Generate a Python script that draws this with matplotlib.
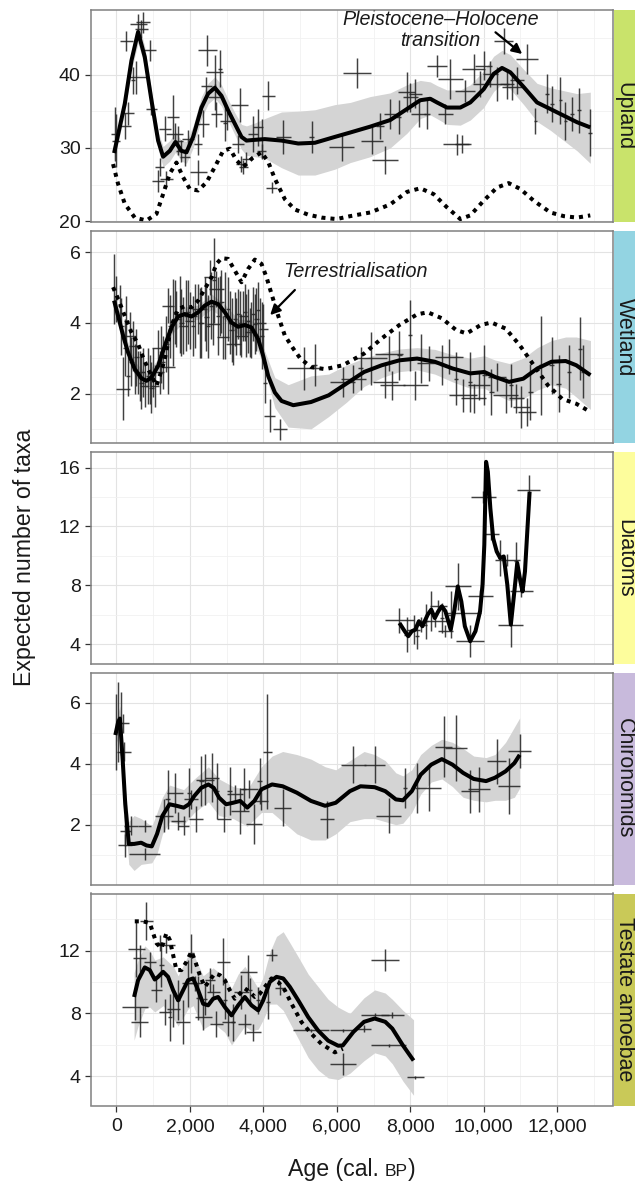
import numpy as np
import matplotlib
matplotlib.use("Agg")
import matplotlib.pyplot as plt
from matplotlib.patches import Rectangle
from matplotlib.ticker import FixedLocator

plt.rcParams['font.family'] = ['Liberation Sans', 'DejaVu Sans']

# ---------------------------------------------------------------- data
panel_names = ["Upland", "Wetland", "Diatoms", "Chironomids", "Testate amoebae"]
strip_colors = ["#c9e36b", "#93d4e2", "#fdfd9c", "#c8badc", "#c9c958"]
y_ticks = [[20, 30, 40], [2, 4, 6], [4, 8, 12, 16], [2, 4, 6], [4, 8, 12]]
y_minor = [[25, 35, 45], [1, 3, 5], [6, 10, 14], [1, 3, 5], [6, 10, 14]]
y_limits = [(19.9, 48.8), (0.6, 6.6), (2.64, 17.07), (0.04, 6.99), (2.15, 15.63)]
x_ticks = [0, 2000, 4000, 6000, 8000, 10000, 12000]
x_minor = [1000, 3000, 5000, 7000, 9000, 11000, 13000]
x_limits = (-700, 13510)

# crosses: (age, taxa, age error, taxa error)
upland_points = [
    (-45, 31.9, 110, 3.7), (0, 31.0, 110, 3.6), (227, 33.0, 160, 1.8), (318, 34.7, 160, 1.6),
    (272, 44.6, 180, 1.4), (545, 39.6, 250, 2.3), (454, 39.2, 60, 1.8), (590, 46.9, 230, 1.4),
    (727, 47.1, 200, 1.4), (680, 46.2, 180, 1.2), (908, 43.3, 160, 1.4), (954, 35.3, 160, 0.8),
    (1135, 25.5, 160, 1.5), (1180, 27.4, 120, 1.2), (1362, 25.8, 180, 1.0), (1317, 32.6, 160, 1.7),
    (1544, 34.2, 160, 3.0), (1590, 31.9, 230, 1.5), (1680, 31.0, 120, 2.0), (1860, 28.7, 140, 1.2),
    (1770, 29.6, 140, 1.5), (2225, 26.7, 230, 1.7), (1952, 31.2, 160, 1.3), (2225, 30.5, 115, 1.4),
    (2361, 33.3, 160, 1.8), (2479, 43.3, 250, 2.1), (2452, 38.5, 160, 1.1), (2679, 40.3, 230, 2.3),
    (2815, 40.8, 60, 2.5), (2679, 36.9, 180, 1.8), (2724, 34.6, 160, 1.7), (2951, 33.4, 60, 2.5),
    (3000, 33.7, 180, 1.2), (3360, 35.8, 230, 2.3), (3315, 30.5, 160, 1.2), (3405, 27.8, 160, 1.1),
    (3450, 27.4, 120, 1.0), (3540, 28.5, 120, 1.0), (3723, 31.9, 140, 2.5), (3859, 32.8, 140, 2.5),
    (3950, 31.2, 140, 2.7), (4131, 37.1, 180, 2.0), (4222, 24.6, 160, 0.8), (3950, 29.6, 120, 1.0),
    (4540, 31.5, 200, 2.3), (5312, 31.5, 80, 2.2), (6547, 40.2, 385, 2.0), (6138, 30.1, 340, 1.9),
    (6956, 31.0, 290, 1.8), (7180, 33.0, 100, 1.8), (7318, 28.3, 360, 1.9), (7454, 34.6, 180, 2.0),
    (7680, 34.2, 80, 2.3), (7908, 37.6, 230, 2.7), (8000, 36.9, 200, 2.0), (8135, 37.4, 180, 2.0),
    (8226, 34.6, 200, 1.8), (8453, 34.6, 80, 2.0), (8726, 41.2, 270, 1.5), (8953, 34.6, 200, 1.4),
    (9089, 39.4, 340, 2.7), (9270, 30.5, 385, 1.4), (9407, 30.5, 200, 1.2), (9498, 37.8, 270, 1.5),
    (9724, 40.8, 320, 2.0), (9906, 38.7, 200, 1.8), (9997, 41.2, 230, 2.0), (10179, 40.1, 200, 1.8),
    (10361, 38.7, 320, 2.3), (10542, 44.6, 250, 1.8), (10633, 38.7, 200, 2.0), (10770, 38.3, 270, 1.8),
    (10906, 39.2, 200, 1.8), (11179, 42.1, 290, 2.0), (11405, 33.7, 50, 1.8), (11723, 37.4, 50, 2.7),
    (11860, 36.0, 50, 2.5), (12086, 36.5, 50, 3.2), (12222, 33.7, 50, 2.6), (12404, 34.6, 50, 2.3),
    (12586, 35.1, 50, 3.0), (12900, 32.1, 50, 3.2),
]
upland_fit_age = [-63, 227, 409, 590, 772, 954, 1135, 1271, 1453, 1607, 1770, 1907, 2088, 2315,
                  2497, 2679, 2860, 3042, 3223, 3405, 3541, 3768, 4040, 4495, 4949, 5403, 5947,
                  6365, 6910, 7454, 7908, 8271, 8544, 8726, 8998, 9361, 9634, 9997, 10270, 10497,
                  10724, 11087, 11450, 11814, 12177, 12540, 12900]
upland_fit = [29.3, 36.0, 41.9, 45.8, 42.4, 36.5, 31.0, 28.8, 29.6, 30.8, 29.6, 29.4, 31.5, 35.5,
              37.4, 38.2, 37.1, 35.1, 33.3, 31.5, 31.0, 31.1, 31.2, 31.0, 30.6, 30.7, 31.5,
              32.1, 32.9, 33.8, 35.3, 36.5, 36.7, 36.2, 35.5, 35.5, 36.2, 38.0, 40.1, 40.9,
              40.3, 38.3, 36.2, 35.3, 34.4, 33.5, 32.8]
upland_band_lo = [28.3, 34.8, 40.6, 44.3, 41.0, 35.2, 29.8, 27.4, 28.2, 29.4, 28.2, 27.9, 30.0, 34.0,
                  36.0, 36.8, 35.7, 33.7, 31.8, 29.8, 29.0, 28.8, 28.6, 27.3, 26.3, 26.3, 27.1,
                  28.0, 28.8, 30.0, 32.0, 34.0, 34.5, 34.0, 33.2, 33.1, 33.8, 35.5, 37.7, 38.7,
                  38.0, 35.9, 33.6, 32.4, 31.0, 29.6, 27.9]
upland_band_hi = [30.3, 37.2, 43.2, 47.3, 43.8, 37.8, 32.2, 30.2, 31.0, 32.2, 31.0, 30.9, 33.0, 37.0,
                  38.8, 39.7, 38.6, 36.6, 34.8, 33.2, 33.0, 33.4, 34.0, 34.9, 35.0, 35.2, 35.9,
                  36.2, 37.0, 37.5, 38.6, 39.2, 39.0, 38.5, 37.9, 37.9, 38.6, 40.5, 42.5, 43.3,
                  42.7, 40.7, 38.8, 38.2, 37.8, 37.4, 37.6]
upland_dot_age = [-91, 45, 227, 499, 817, 1090, 1271, 1453, 1634, 1816, 1998, 2225, 2452, 2679,
                  2906, 3088, 3270, 3450, 3700, 3950, 4131, 4313, 4586, 4858, 5221, 5584, 5993,
                  6365, 6910, 7454, 7908, 8271, 8635, 8998, 9361, 9634, 9997, 10361, 10679,
                  10997, 11360, 11814, 12177, 12540, 12900]
upland_dot = [27.8, 25.1, 22.4, 20.5, 20.1, 21.0, 23.7, 26.5, 28.0, 26.0, 24.4, 24.2, 25.3, 27.4,
              29.6, 29.9, 28.3, 27.4, 28.6, 29.4, 28.1, 25.8, 23.0, 21.6, 20.9, 20.5, 20.3,
              20.7, 21.2, 22.3, 24.0, 24.5, 23.7, 21.9, 20.3, 20.8, 22.8, 24.6, 25.2,
              24.4, 22.8, 21.2, 20.7, 20.5, 20.8]

wetland_points = [
    (-64, 4.96, 40, 1.0), (0, 4.68, 40, 0.66), (91, 4.49, 60, 0.57), (182, 2.14, 200, 0.9),
    (272, 4.06, 60, 0.7), (363, 3.64, 160, 0.66), (454, 3.35, 120, 0.7), (318, 2.50, 60, 0.57),
    (545, 3.02, 60, 0.8), (590, 2.60, 120, 0.6), (681, 2.31, 60, 0.76), (772, 2.22, 120, 0.6),
    (863, 2.50, 60, 0.8), (953, 2.17, 60, 0.73), (1044, 2.22, 120, 0.6), (1135, 3.30, 160, 0.5),
    (1180, 2.60, 120, 0.6), (1271, 2.88, 60, 0.76), (1407, 2.74, 200, 0.76), (1407, 4.49, 160, 0.5),
    (1544, 4.01, 60, 1.23), (1634, 4.11, 120, 0.8), (1725, 4.25, 60, 1.09), (1816, 3.92, 120, 0.8),
    (1907, 4.20, 60, 1.0), (1998, 4.06, 120, 0.8), (2088, 3.92, 60, 0.85), (2225, 4.39, 160, 0.7),
    (2316, 4.01, 60, 1.0), (2452, 4.16, 60, 0.95), (2543, 5.29, 160, 0.5), (2588, 4.49, 60, 0.95),
    (2660, 5.20, 50, 1.2), (2724, 4.96, 200, 0.5), (2633, 3.97, 180, 0.6), (2815, 4.49, 60, 0.85),
    (2906, 3.59, 160, 0.6), (2951, 4.20, 60, 1.23), (3087, 4.01, 60, 0.9), (3178, 3.40, 200, 0.6),
    (3223, 4.11, 60, 0.76), (3314, 4.25, 60, 0.7), (3405, 3.64, 180, 0.6), (3450, 4.20, 120, 0.7),
    (3541, 3.92, 60, 0.9), (3632, 3.73, 120, 0.7), (3723, 4.25, 60, 0.76), (3768, 3.97, 60, 0.85),
    (3859, 4.35, 60, 0.8), (3904, 4.01, 160, 0.7), (3950, 3.64, 60, 0.95), (3995, 3.82, 120, 0.7),
    (4040, 2.31, 60, 0.57), (4177, 1.37, 150, 0.47), (4449, 0.99, 200, 0.3),
    (136, 3.90, 60, 0.8), (227, 3.30, 60, 0.8), (409, 2.90, 60, 0.7), (500, 2.70, 60, 0.7),
    (636, 2.50, 60, 0.7), (727, 2.60, 60, 0.7), (908, 2.40, 60, 0.7), (999, 2.60, 60, 0.7),
    (1226, 3.10, 60, 0.8), (1362, 3.40, 60, 0.8), (1453, 3.90, 60, 0.9), (1589, 4.30, 60, 0.9),
    (1770, 4.00, 60, 0.95), (1952, 4.30, 60, 0.9), (2134, 4.20, 60, 0.9), (2270, 4.00, 60, 1.0),
    (2406, 4.40, 60, 0.9), (2497, 3.90, 60, 0.9), (2769, 4.20, 60, 1.1), (2860, 4.60, 60, 0.9),
    (3042, 4.40, 60, 0.9), (3133, 3.80, 60, 0.9), (3268, 3.90, 60, 0.8), (3360, 4.00, 60, 0.9),
    (3496, 4.30, 60, 0.8), (3587, 4.05, 60, 0.9), (3677, 3.80, 60, 0.8), (3813, 4.10, 60, 0.9),
    (5104, 2.71, 450, 0.6), (5393, 2.80, 60, 0.6), (6163, 2.33, 340, 0.43), (6452, 2.42, 340, 0.4),
    (6645, 2.71, 60, 0.6), (6933, 3.0, 430, 0.75), (7318, 2.33, 340, 0.47), (7414, 3.13, 385, 0.5),
    (7511, 2.23, 340, 0.4), (7704, 3.08, 60, 0.7), (7993, 3.65, 60, 1.0), (8137, 2.23, 340, 0.4),
    (8281, 2.99, 60, 0.7), (8522, 2.85, 340, 0.5), (8859, 2.80, 60, 0.57), (9052, 3.04, 385, 0.5),
    (9244, 2.42, 60, 0.75), (9437, 1.95, 385, 0.47), (9630, 2.33, 60, 0.85), (9726, 1.86, 340, 0.4),
    (9870, 2.23, 290, 0.4), (10015, 2.52, 60, 0.85), (10207, 2.04, 60, 0.66), (10352, 2.47, 240, 0.4),
    (10593, 1.95, 340, 0.5), (10737, 2.23, 60, 0.6), (10882, 1.86, 200, 0.4), (11026, 1.62, 240, 0.6),
    (11171, 1.48, 240, 0.4), (11267, 2.04, 60, 0.8), (11556, 2.80, 60, 1.4), (11845, 2.80, 60, 0.8),
    (12037, 2.28, 60, 0.8), (12326, 2.61, 60, 0.75), (12615, 3.27, 60, 0.9), (12711, 2.61, 60, 0.75),
]
wetland_fit_age = [-64, 45, 182, 318, 500, 681, 817, 953, 1135, 1317, 1498, 1680, 1861, 2043, 2225,
                   2406, 2588, 2769, 2951, 3133, 3314, 3496, 3677, 3859, 3995, 4131, 4313, 4495,
                   4815, 5297, 5778, 6259, 6741, 7222, 7704, 8185, 8667, 9148, 9630, 10015, 10304,
                   10689, 11075, 11460, 11845, 12230, 12519, 12904]
wetland_fit = [4.63, 4.20, 3.64, 3.16, 2.69, 2.43, 2.36, 2.45, 2.78, 3.35, 3.87, 4.18, 4.25, 4.18, 4.30,
               4.49, 4.60, 4.53, 4.30, 4.01, 3.89, 3.94, 3.87, 3.54, 3.07, 2.50, 2.03, 1.79,
               1.67, 1.76, 1.95, 2.28, 2.61, 2.80, 2.94, 2.99, 2.90, 2.71, 2.57, 2.61, 2.47,
               2.33, 2.42, 2.71, 2.90, 2.92, 2.80, 2.52]
wetland_band_age = [-64, 182, 500, 817, 1135, 1498, 1861, 2225, 2588, 2951, 3314, 3677, 3995, 4313,
                    4676, 5297, 5778, 6259, 6741, 7222, 7704, 8185, 8667, 9148, 9630, 10015, 10304,
                    10689, 11075, 11460, 11845, 12230, 12519, 12904]
wetland_band_lo = [4.35, 3.45, 2.50, 2.15, 2.58, 3.67, 4.05, 4.10, 4.38, 4.08, 3.67, 3.65, 2.82, 1.60,
                   1.05, 1.00, 1.35, 1.75, 2.20, 2.45, 2.62, 2.67, 2.55, 2.33, 2.15, 2.15, 1.98,
                   1.80, 1.85, 2.10, 2.25, 2.15, 1.90, 1.55]
wetland_band_hi = [4.90, 3.85, 2.90, 2.57, 2.98, 4.07, 4.45, 4.50, 4.82, 4.52, 4.10, 4.10, 3.32, 2.45,
                   2.25, 2.50, 2.55, 2.80, 3.00, 3.15, 3.26, 3.30, 3.25, 3.10, 3.00, 3.07, 2.95,
                   2.85, 3.00, 3.30, 3.50, 3.60, 3.60, 3.50]
wetland_dot_age = [-91, 45, 227, 409, 590, 727, 863, 999, 1090, 1180, 1317, 1498, 1680, 1861, 2043,
                   2225, 2406, 2588, 2724, 2860, 3042, 3223, 3405, 3587, 3768, 3950, 4086, 4222,
                   4404, 4585, 4815, 5008, 5297, 5682, 6163, 6741, 7222, 7704, 8185, 8474, 8859,
                   9244, 9533, 9918, 10207, 10593, 10978, 11363, 11748, 12134, 12519, 12904]
wetland_dot = [5.01, 4.68, 4.20, 3.73, 3.40, 3.02, 2.69, 2.41, 2.22, 2.50, 2.97, 3.92, 4.39, 4.47, 4.44,
               4.63, 4.96, 5.29, 5.67, 5.83, 5.81, 5.48, 5.15, 5.53, 5.79, 5.67, 5.29, 4.82,
               4.20, 3.64, 3.27, 2.99, 2.75, 2.69, 2.80, 3.13, 3.56, 3.94, 4.24, 4.30, 4.13,
               3.80, 3.70, 3.94, 4.01, 3.84, 3.37, 2.80, 2.23, 1.85, 1.71, 1.48]

diatom_points = [
    (7704, 5.61, 385, 0.85), (7897, 4.64, 60, 1.2), (8089, 4.98, 180, 1.0), (8185, 4.53, 60, 0.9),
    (8281, 5.32, 180, 0.5), (8426, 5.55, 60, 1.2), (8570, 6.23, 60, 1.35), (8667, 5.55, 385, 0.4),
    (8763, 6.57, 240, 0.4), (8859, 5.77, 60, 1.0), (8956, 4.87, 200, 0.4), (9100, 6.0, 60, 1.6),
    (9293, 7.92, 360, 1.6), (9437, 6.11, 480, 0.3), (9630, 4.19, 385, 1.1), (9899, 7.29, 340, 0.4),
    (9987, 13.99, 340, 0.4), (10207, 11.48, 220, 0.4), (10448, 9.85, 60, 1.25), (10641, 9.73, 340, 0.4),
    (10737, 5.32, 340, 1.5), (10882, 9.62, 60, 1.35), (11026, 7.58, 310, 0.4), (11219, 14.48, 310, 1.0),
]
diatom_fit_age = [7704, 7848, 7945, 8041, 8137, 8234, 8330, 8474, 8570, 8667, 8763, 8859, 8956, 9100,
                  9196, 9293, 9389, 9485, 9630, 9774, 9899, 9967, 10015, 10063, 10111, 10179, 10256,
                  10352, 10448, 10544, 10641, 10737, 10833, 10911, 10998, 11055, 11122, 11190, 11248]
diatom_fit = [5.43, 4.87, 4.53, 4.87, 4.98, 5.55, 5.21, 6.00, 6.34, 5.77, 6.23, 6.57, 6.23, 4.98,
              6.23, 7.92, 6.90, 5.21, 4.19, 4.87, 6.23, 8.04, 10.75, 16.4, 15.73, 13.24, 11.20,
              10.30, 9.85, 9.96, 8.04, 5.32, 7.58, 9.51, 8.26, 7.58, 8.94, 11.88, 14.37]

chiro_points = [
    (0, 5.05, 40, 1.24), (48, 5.37, 40, 1.3), (116, 5.32, 40, 1.03), (173, 5.32, 170, 0.3),
    (212, 4.40, 190, 0.3), (241, 1.81, 145, 0.5), (241, 1.32, 190, 0.38), (385, 1.97, 190, 0.3),
    (770, 1.97, 170, 0.2), (770, 1.03, 430, 0.2), (1300, 2.29, 240, 0.54), (1396, 2.83, 60, 0.97),
    (1589, 3.05, 215, 0.65), (1685, 2.13, 190, 0.3), (1830, 1.97, 145, 0.3), (1974, 3.05, 60, 0.81),
    (2022, 2.83, 190, 0.3), (2167, 2.18, 190, 0.43), (2311, 3.43, 60, 0.81), (2408, 3.48, 240, 0.84),
    (2600, 3.54, 190, 0.81), (2745, 3.10, 60, 0.92), (2937, 2.18, 190, 0.43), (3081, 3.10, 60, 0.78),
    (3226, 3.0, 215, 0.3), (3370, 2.45, 240, 0.76), (3467, 3.16, 60, 0.7), (3611, 3.16, 240, 0.3),
    (3756, 2.02, 215, 0.65), (3900, 3.43, 60, 0.76), (3948, 2.78, 190, 0.3), (4111, 4.40, 120, 1.9),
    (4526, 2.56, 240, 0.6), (5730, 2.18, 190, 0.6), (6452, 3.97, 340, 0.6), (7030, 3.97, 290, 0.6),
    (7415, 2.29, 340, 0.57), (7848, 3.21, 60, 0.65), (8185, 3.21, 60, 0.81), (8522, 3.21, 310, 0.76),
    (8908, 4.56, 240, 1.0), (9245, 4.51, 290, 1.08), (9630, 3.10, 240, 0.7), (9870, 3.16, 290, 0.73),
    (10352, 4.08, 265, 0.73), (10689, 3.26, 310, 0.92), (10978, 4.42, 310, 0.57),
]
chiro_fit_age = [-29, 48, 96, 173, 241, 337, 481, 674, 819, 963, 1107, 1252, 1445, 1637, 1830, 1974,
                 2119, 2311, 2504, 2648, 2793, 2985, 3178, 3370, 3563, 3756, 3948, 4237, 4526, 4911,
                 5297, 5682, 5971, 6356, 6645, 7030, 7319, 7608, 7800, 8041, 8282, 8570, 8859,
                 9148, 9437, 9726, 10063, 10304, 10593, 10834, 10978]
chiro_fit = [4.94, 5.37, 5.48, 4.08, 2.67, 1.37, 1.37, 1.41, 1.32, 1.29, 1.70, 2.29, 2.67, 2.62, 2.56, 2.67,
             2.94, 3.21, 3.32, 3.21, 2.89, 2.67, 2.72, 2.78, 2.56, 2.78, 3.16, 3.32, 3.26, 3.05,
             2.78, 2.62, 2.72, 3.10, 3.26, 3.23, 3.10, 2.83, 2.80, 3.10, 3.64, 3.97, 4.15,
             3.97, 3.70, 3.50, 3.43, 3.54, 3.75, 4.02, 4.29]
chiro_band_age = [-29, 96, 173, 241, 337, 481, 674, 963, 1107, 1252, 1445, 1830, 2119, 2504, 2793,
                  3178, 3563, 3948, 4237, 4526, 4911, 5297, 5682, 5971, 6356, 6741, 7030, 7319, 7608,
                  7800, 8041, 8282, 8570, 8859, 9148, 9437, 9726, 10063, 10304, 10593, 10834, 10978]
chiro_band_lo = [4.6, 5.0, 3.6, 2.1, 0.7, 0.5, 0.7, 0.75, 1.05, 1.7, 2.1, 2.0, 2.4, 2.75, 2.3,
                 2.2, 1.95, 2.4, 2.4, 2.1, 1.7, 1.5, 1.5, 1.7, 2.1, 2.2, 2.2, 2.1, 2.0,
                 2.05, 2.4, 3.0, 3.4, 3.5, 3.25, 2.9, 2.8, 2.75, 2.8, 2.8, 2.9, 3.2]
chiro_band_hi = [5.3, 5.9, 4.5, 3.2, 2.1, 2.3, 2.2, 1.95, 2.4, 2.9, 3.3, 3.15, 3.5, 3.9, 3.5,
                 3.25, 3.15, 3.9, 4.25, 4.4, 4.3, 4.15, 3.9, 3.8, 4.1, 4.4, 4.3, 4.1, 3.7,
                 3.6, 3.8, 4.3, 4.6, 4.8, 4.7, 4.5, 4.25, 4.2, 4.3, 4.7, 5.2, 5.5]

testate_points = [
    (545, 12.09, 230, 1.8), (817, 13.86, 180, 1.2), (636, 11.51, 180, 0.85), (499, 8.41, 360, 0.85),
    (636, 7.45, 230, 0.96), (908, 11.29, 160, 0.6), (1090, 9.48, 160, 0.75), (1180, 12.47, 140, 0.5),
    (1226, 11.08, 60, 1.4), (1362, 12.36, 230, 0.5), (1317, 8.09, 160, 0.85), (1453, 7.77, 60, 1.5),
    (1544, 8.30, 180, 1.17), (1680, 8.84, 60, 1.28), (1816, 7.45, 200, 1.4), (1952, 9.91, 160, 1.5),
    (2043, 11.83, 60, 1.23), (2134, 9.91, 180, 0.5), (2225, 9.0, 60, 1.4), (2361, 7.77, 230, 0.85),
    (2406, 8.9, 60, 1.0), (2543, 10.12, 140, 0.75), (2633, 9.37, 180, 0.5), (2724, 7.34, 180, 0.85),
    (2906, 11.29, 180, 1.5), (2951, 8.84, 60, 1.17), (3042, 7.45, 180, 0.85), (3178, 7.45, 60, 1.17),
    (3405, 9.37, 200, 1.07), (3496, 7.34, 180, 0.64), (3587, 10.65, 230, 1.07), (3632, 9.48, 60, 0.75),
    (3723, 6.81, 200, 0.53), (3859, 8.84, 60, 0.85), (4131, 8.73, 60, 1.07), (4222, 11.72, 160, 0.4),
    (4449, 9.59, 140, 0.4), (5297, 6.94, 500, 0.1), (6163, 6.94, 360, 0.1), (6163, 4.80, 360, 0.7),
    (6741, 7.04, 200, 0.2), (7319, 11.42, 385, 0.7), (7030, 7.90, 385, 0.1), (7511, 7.90, 310, 0.2),
    (7415, 5.97, 480, 0.1), (8137, 3.94, 240, 0.1),
]
testate_fit_age = [481, 590, 772, 908, 1044, 1135, 1271, 1407, 1544, 1680, 1816, 1952, 2088, 2225,
                   2361, 2497, 2633, 2769, 2951, 3133, 3314, 3496, 3677, 3859, 3995, 4177, 4358,
                   4540, 4722, 4949, 5221, 5493, 5766, 6038, 6163, 6452, 6741, 7030, 7319, 7511,
                   7800, 8089]
testate_fit = [9.05, 10.12, 10.93, 10.76, 10.16, 10.33, 10.65, 10.33, 9.48, 8.84, 9.48, 10.12, 10.23, 9.48,
               8.62, 8.52, 8.94, 9.05, 8.41, 7.88, 8.52, 9.05, 8.52, 8.20, 8.84, 10.01, 10.33,
               10.23, 9.69, 8.84, 7.77, 6.91, 6.27, 5.95, 5.97, 6.83, 7.47, 7.68, 7.47, 7.04,
               5.97, 5.01]
testate_band_age = [481, 590, 772, 908, 1044, 1271, 1544, 1680, 1952, 2088, 2361, 2633, 2951, 3133,
                    3314, 3496, 3677, 3859, 3995, 4177, 4358, 4540, 4722, 4949, 5221, 5493, 5766,
                    6038, 6356, 6741, 7030, 7319, 7511, 7800, 8089]
testate_band_lo = [6.3, 7.2, 8.3, 8.4, 8.1, 8.5, 7.7, 7.2, 8.3, 8.5, 7.0, 7.4, 6.8, 6.0,
                   6.6, 7.2, 6.9, 7.0, 7.6, 8.6, 8.6, 8.2, 7.4, 6.4, 5.2, 4.4, 3.9,
                   3.8, 4.2, 5.0, 5.5, 5.3, 4.8, 3.7, 2.8]
testate_band_hi = [10.6, 11.4, 12.3, 12.0, 11.4, 11.6, 11.0, 10.4, 11.7, 11.8, 10.4, 10.9, 10.3, 9.6,
                   10.5, 11.0, 10.3, 9.6, 10.3, 11.9, 12.9, 13.2, 12.5, 11.6, 10.5, 9.7, 8.9,
                   8.4, 8.0, 9.0, 9.5, 9.3, 8.9, 8.2, 7.6]
testate_dot_age = [500, 726, 908, 999, 1090, 1226, 1362, 1453, 1544, 1634, 1770, 1907, 2043, 2134,
                   2270, 2406, 2543, 2679, 2815, 2951, 3087, 3223, 3360, 3496, 3632, 3768, 3904,
                   4040, 4222, 4404, 4585, 4767, 5039, 5312, 5584, 5947, 6163]
testate_dot = [13.86, 13.86, 13.75, 13.11, 12.47, 12.15, 13.11, 12.68, 11.72, 10.76, 10.76, 11.29, 11.94,
               11.40, 10.44, 9.69, 10.12, 10.55, 10.44, 10.12, 9.48, 8.94, 9.26, 9.59, 9.37, 9.05,
               9.26, 9.69, 10.23, 10.01, 9.48, 8.62, 7.45, 6.70, 6.06, 5.53, 5.76]

# ---------------------------------------------------------------- panels table
panels = [
    dict(points=upland_points, fit=(upland_fit_age, upland_fit),
         band=(upland_fit_age, upland_band_lo, upland_band_hi), dot=(upland_dot_age, upland_dot)),
    dict(points=wetland_points, fit=(wetland_fit_age, wetland_fit),
         band=(wetland_band_age, wetland_band_lo, wetland_band_hi), dot=(wetland_dot_age, wetland_dot)),
    dict(points=diatom_points, fit=(diatom_fit_age, diatom_fit), band=None, dot=None),
    dict(points=chiro_points, fit=(chiro_fit_age, chiro_fit),
         band=(chiro_band_age, chiro_band_lo, chiro_band_hi), dot=None),
    dict(points=testate_points, fit=(testate_fit_age, testate_fit),
         band=(testate_band_age, testate_band_lo, testate_band_hi), dot=(testate_dot_age, testate_dot)),
]

# ---------------------------------------------------------------- figure
W, H = 635, 1182
fig = plt.figure(figsize=(W / 100, H / 100), dpi=100)
L, R = 90.7, 612.7
tops = [10, 231, 452, 672.5, 893.5]
PH = 212
TXT = '#1a1a1a'
axes = []
for i, p in enumerate(panels):
    ax = fig.add_axes([L / W, 1 - (tops[i] + PH) / H, (R - L) / W, PH / H])
    axes.append(ax)
    ax.set_xlim(*x_limits)
    ax.set_ylim(*y_limits[i])
    ax.set_xticks(x_ticks)
    ax.xaxis.set_minor_locator(FixedLocator(x_minor))
    ax.set_yticks(y_ticks[i])
    ax.yaxis.set_minor_locator(FixedLocator(y_minor[i]))
    ax.grid(which='major', color='#e3e3e3', lw=0.8, zorder=0)
    ax.grid(which='minor', color='#f1f1f1', lw=0.6, zorder=0)
    ax.set_axisbelow(True)
    ax.tick_params(which='minor', length=0)
    ax.tick_params(axis='y', which='major', length=4.3, width=0.9, color='#333333',
                   labelsize=14, labelcolor=TXT, pad=3)
    if i < 4:
        ax.tick_params(axis='x', which='major', length=0, labelbottom=False)
    else:
        ax.tick_params(axis='x', which='major', length=4.3, width=0.9, color='#333333',
                       labelsize=14, labelcolor=TXT, pad=5)
        ax.set_xticklabels([f"{v:,}" for v in x_ticks])
    for s in ax.spines.values():
        s.set_color('#808080')
        s.set_linewidth(1.1)
        s.set_zorder(10)

    if p['band'] is not None:
        bx, blo, bhi = p['band']
        ax.fill_between(bx, blo, bhi, color='#d4d4d4', lw=0, zorder=1)
    pts = np.array(p['points'], dtype=float)
    ax.errorbar(pts[:, 0], pts[:, 1], xerr=pts[:, 2], yerr=pts[:, 3], fmt='none',
                ecolor='#262626', elinewidth=1.05, alpha=0.88, capsize=0, zorder=3)
    if p['dot'] is not None:
        dx, dy = p['dot']
        ax.plot(dx, dy, color='black', lw=2.9, linestyle=(0, (1, 1.25)),
                dash_capstyle='butt', zorder=4)
    fx, fy = p['fit']
    ax.plot(fx, fy, color='black', lw=2.9, solid_joinstyle='round',
            solid_capstyle='butt', zorder=5)

    # strip
    sw = 21.5 / (R - L)
    strip = Rectangle((1 + 1.2 / (R - L), 0), sw, 1, transform=ax.transAxes,
                      facecolor=strip_colors[i], edgecolor='none', clip_on=False, zorder=10)
    ax.add_patch(strip)
    ax.text(1 + 1.2 / (R - L) + sw / 2 - 0.3 / (R - L), 0.5, panel_names[i],
            transform=ax.transAxes, rotation=270, ha='center', va='center',
            fontsize=15.5, color=TXT, clip_on=False, zorder=12)

# annotations
a0 = axes[0]
a0.text(8820, 47.55, "Pleistocene\u2013Holocene", ha='center', va='center',
        fontsize=14.2, style='italic', color=TXT, zorder=9)
a0.text(8820, 44.65, "transition", ha='center', va='center',
        fontsize=14.2, style='italic', color=TXT, zorder=9)
a0.annotate('', xy=(11046, 42.8), xytext=(10319, 45.76),
            arrowprops=dict(arrowstyle='-|>,head_length=0.6,head_width=0.3', lw=1.6,
                            color='black', shrinkA=0, shrinkB=0), zorder=8)
a1 = axes[1]
a1.text(6496, 5.45, "Terrestrialisation", ha='center', va='center',
        fontsize=14.2, style='italic', color=TXT, zorder=9)
a1.annotate('', xy=(4185, 4.22), xytext=(4858, 4.93),
            arrowprops=dict(arrowstyle='-|>,head_length=0.6,head_width=0.3', lw=1.6,
                            color='black', shrinkA=0, shrinkB=0), zorder=8)

# axis titles
fig.text(25 / W, 1 - 557 / H, "Expected number of taxa", rotation=90, ha='center',
         va='center', fontsize=16.7, color=TXT)

base_y = 1 - 1176 / H
parts = [("Age (cal. ", 16.7), ("BP", 12.6), (")", 16.7)]
tobjs = [fig.text(0, base_y, s, fontsize=fs, va='baseline', ha='left', color=TXT) for s, fs in parts]
fig.canvas.draw()
rend = fig.canvas.get_renderer()
widths = [t.get_window_extent(rend).width for t in tobjs]
x0 = (L + R) / 2 - sum(widths) / 2
for t, w in zip(tobjs, widths):
    t.set_x(x0 / W)
    x0 += w

fig.savefig("out.png", dpi=100)
